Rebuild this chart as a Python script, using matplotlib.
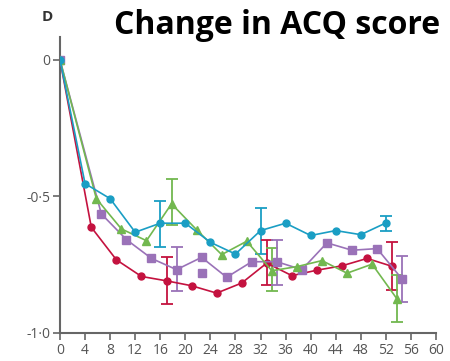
import matplotlib.pyplot as plt

# weeks and mean change in ACQ score for each group
blue_x = [0, 4, 8, 12, 16, 20, 24, 28, 32, 36, 40, 44, 48, 52]
blue_y = [0, -0.453, -0.508, -0.631, -0.598, -0.598, -0.668, -0.711, -0.625, -0.598, -0.643, -0.625, -0.64, -0.597]
blue_err_x = [16, 32, 52]
blue_err_y = [-0.598, -0.625, -0.597]
blue_err_lo = [-0.686, -0.711, -0.625]
blue_err_hi = [-0.515, -0.542, -0.570]

red_x = [0, 5, 9, 13, 17, 21, 25, 29, 33, 37, 41, 45, 49, 53]
red_y = [0, -0.613, -0.732, -0.793, -0.809, -0.827, -0.854, -0.817, -0.744, -0.79, -0.77, -0.754, -0.727, -0.756]
red_err_x = [17, 33, 53]
red_err_y = [-0.809, -0.744, -0.756]
red_err_lo = [-0.895, -0.824, -0.843]
red_err_hi = [-0.723, -0.658, -0.668]

green_x = [0, 5.8, 9.8, 13.8, 17.8, 21.8, 25.8, 29.8, 33.8, 37.8, 41.8, 45.8, 49.8, 53.8]
green_y = [0, -0.508, -0.619, -0.662, -0.527, -0.622, -0.713, -0.664, -0.772, -0.757, -0.735, -0.781, -0.748, -0.876]
green_err_x = [17.8, 33.8, 53.8]
green_err_y = [-0.527, -0.772, -0.876]
green_err_lo = [-0.603, -0.846, -0.96]
green_err_hi = [-0.4375, -0.689, -0.788]

purple_x = [0, 6.6, 10.6, 14.6, 18.6, 22.6, 26.6, 30.6, 34.6, 38.6, 42.6, 46.6, 50.6, 54.6]
purple_y = [0, -0.564, -0.658, -0.727, -0.768, -0.723, -0.796, -0.739, -0.739, -0.768, -0.67, -0.697, -0.691, -0.803]
purple_extra_x = [22.6]
purple_extra_y = [-0.781]
purple_err_x = [18.6, 34.6, 54.6]
purple_err_y = [-0.768, -0.739, -0.803]
purple_err_lo = [-0.846, -0.825, -0.886]
purple_err_hi = [-0.684, -0.658, -0.717]

xticks = list(range(0, 61, 4))
yticks = [0, -0.5, -1.0]
ytick_labels = ['0', '-0\u00b75', '-1\u00b70']

blue = '#1a9ec4'
red = '#c4123f'
green = '#72b84f'
purple = '#9a72b8'
grey = '#555555'

fig = plt.figure(figsize=(4.5, 3.61), dpi=100)
ax = fig.add_axes([0.1333, 0.0776, 0.8356, 0.82])

def err(ax, xs, ys, lo, hi, c):
    ylo = [y - l for y, l in zip(ys, lo)]
    yhi = [h - y for y, h in zip(ys, hi)]
    ax.errorbar(xs, ys, yerr=[ylo, yhi], fmt='none', ecolor=c, elinewidth=1.3,
                capsize=4, capthick=1.3, zorder=2)

err(ax, blue_err_x, blue_err_y, blue_err_lo, blue_err_hi, blue)
err(ax, red_err_x, red_err_y, red_err_lo, red_err_hi, red)
err(ax, green_err_x, green_err_y, green_err_lo, green_err_hi, green)
err(ax, purple_err_x, purple_err_y, purple_err_lo, purple_err_hi, purple)

ax.plot(red_x, red_y, color=red, lw=1.2, marker='o', ms=5, zorder=3)
ax.plot(purple_x, purple_y, color=purple, lw=1.2, marker='s', ms=5.5, zorder=3)
ax.plot(purple_extra_x, purple_extra_y, color=purple, ls='none', marker='s', ms=5.5, zorder=3)
ax.plot(green_x, green_y, color=green, lw=1.2, marker='^', ms=6, zorder=4)
ax.plot(blue_x, blue_y, color=blue, lw=1.2, marker='o', ms=5, zorder=4)

ax.set_xlim(0, 60)
ax.set_ylim(-1.0, 0.084)
ax.set_xticks(xticks)
ax.set_xticklabels([str(t) for t in xticks])
ax.set_yticks(yticks)
ax.set_yticklabels(ytick_labels)
for s in ['top', 'right']:
    ax.spines[s].set_visible(False)
for s in ['left', 'bottom']:
    ax.spines[s].set_color('#666666')
    ax.spines[s].set_linewidth(1.5)
ax.tick_params(direction='out', length=5, width=1.2, color='#666666',
               labelcolor=grey, labelsize=10, pad=2)
for lab in ax.get_xticklabels() + ax.get_yticklabels():
    lab.set_family('Open Sans')

fig.text(0.093, 0.953, 'D', fontsize=11, fontweight='bold', color='#333333',
         ha='left', va='center', family='Open Sans')
fig.text(0.978, 0.93, 'Change in ACQ score', fontsize=23, fontweight='bold',
         color='black', ha='right', va='center', family='Open Sans')

fig.savefig('out.png', dpi=100)
